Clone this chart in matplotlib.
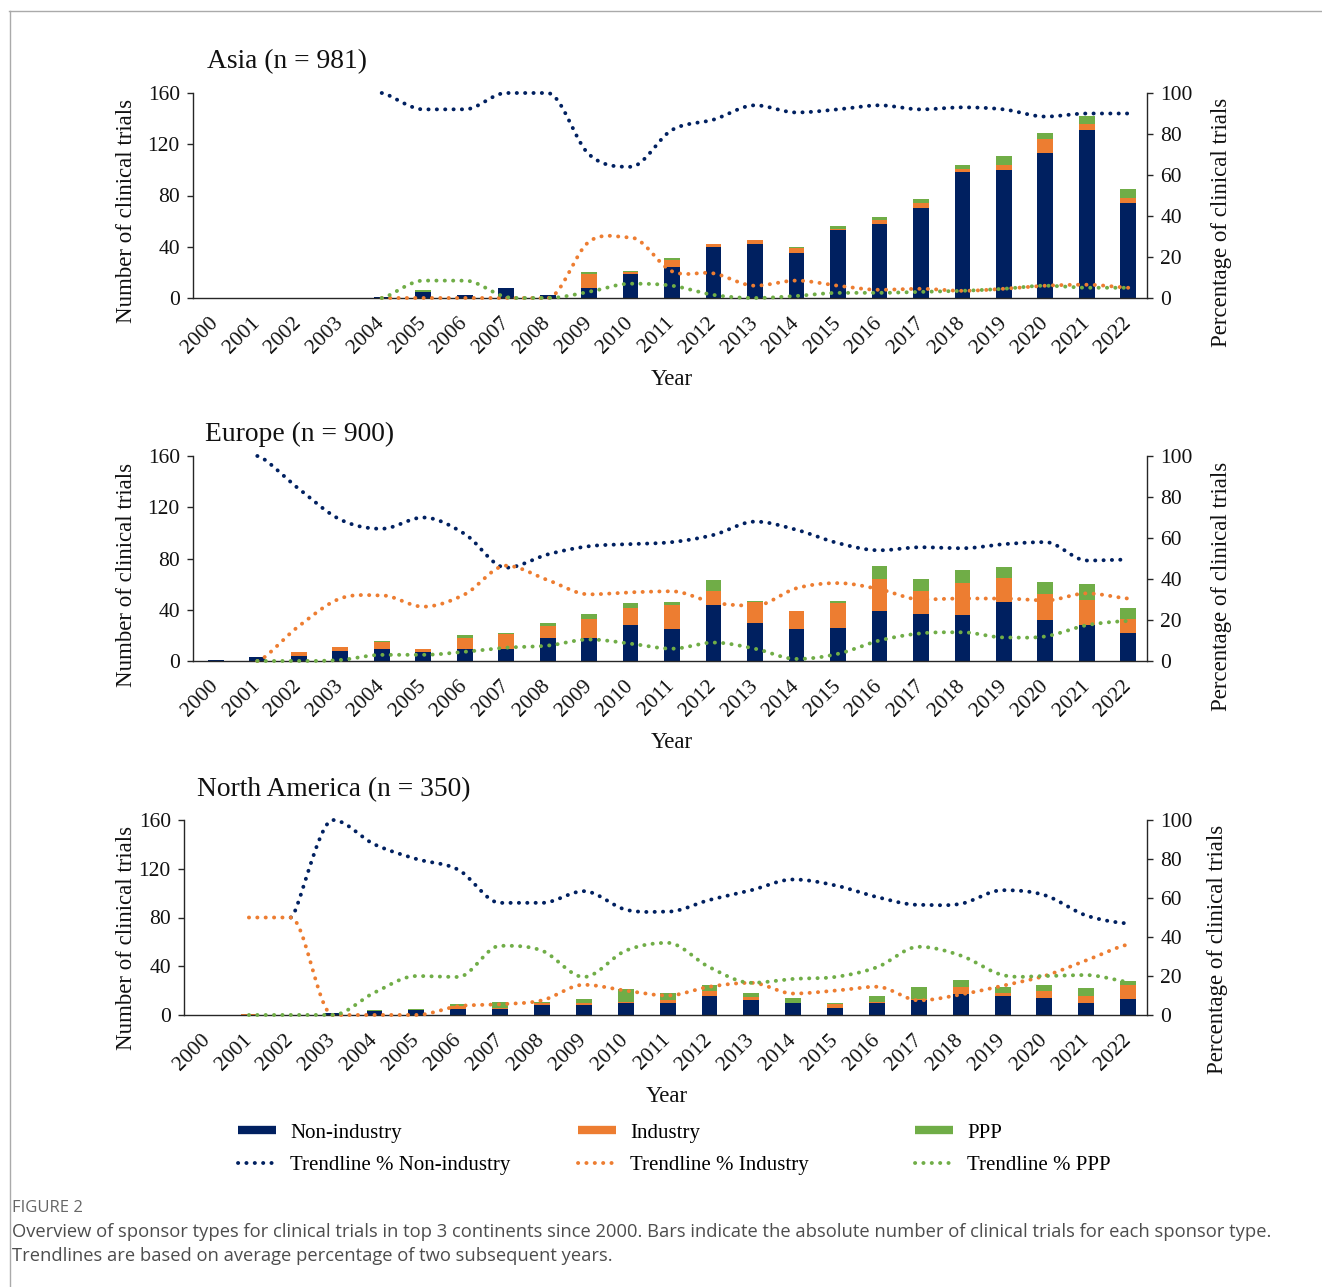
import numpy as np
import matplotlib
matplotlib.use('Agg')
import matplotlib.pyplot as plt
from matplotlib.lines import Line2D

W, H = 1322, 1287
nan = np.nan

years = [str(y) for y in range(2000, 2023)]

# Asia: trial counts per sponsor type and two-year trend percentages
asia_non = [0, 0, 0, 0, 1, 5, 2, 8, 2, 8, 19, 24, 40, 42, 35, 53, 58, 70, 98, 100, 113, 131, 74]
asia_ind = [0, 0, 0, 0, 0, 0, 0, 0, 0, 11, 1, 6, 2, 3, 4, 1, 3, 4, 3, 4, 11, 5, 4]
asia_ppp = [0, 0, 0, 0, 0, 1, 0, 0, 0, 1, 1, 1, 0, 0, 1, 2, 2, 3, 3, 7, 5, 6, 7]
asia_trend_non = [nan, nan, nan, nan, 100, 92, 92, 100, 100, 70, 64, 82, 87, 94, 90.5, 92, 94, 92, 93, 92, 88.5, 90, 90]
asia_trend_ind = [nan, nan, nan, nan, 0, 0, 0, 0, 0, 27.5, 29.5, 13, 12, 6, 8.5, 6, 4, 4.5, 3.5, 4.5, 6, 6.5, 5]
asia_trend_ppp = [nan, nan, nan, nan, 0, 8.5, 8.5, 0.5, 0, 3, 7, 6, 1.5, 0, 1, 2.5, 2.5, 3, 3.5, 4.5, 6, 5, 5]

# Europe
eu_non = [1, 3, 4, 8, 9, 7, 9, 9, 18, 18, 28, 25, 44, 30, 25, 26, 39, 37, 36, 46, 32, 28, 22]
eu_ind = [0, 0, 3, 3, 6, 2, 9, 12, 9, 15, 13, 19, 11, 16, 14, 19, 25, 18, 25, 19, 20, 20, 11]
eu_ppp = [0, 0, 0, 0, 1, 0, 2, 1, 3, 4, 4, 2, 8, 1, 0, 2, 10, 9, 10, 8, 10, 12, 8]
eu_trend_non = [nan, 100, 84, 69, 64.5, 70, 62, 45.5, 52, 56, 57, 58, 61.5, 68, 64, 57.5, 54, 55.5, 55, 57, 58, 49, 49.5]
eu_trend_ind = [nan, 0, 17, 30.5, 32, 26.5, 32.5, 46.5, 39.5, 32.5, 33.5, 34, 28.5, 27, 35.5, 38, 35, 30, 30.5, 30.5, 29.5, 33, 30.5]
eu_trend_ppp = [nan, 0, 0, 0.5, 3, 3, 4.5, 6.5, 7.5, 10.5, 8.5, 6, 9, 6, 1, 3.5, 10, 13.5, 14, 11.5, 12, 17.5, 19.5]

# North America
na_non = [0, 0, 0, 2, 3, 4, 5, 5, 8, 8, 10, 10, 16, 12, 10, 6, 10, 12, 17, 16, 14, 10, 13]
na_ind = [0, 1, 0, 0, 0, 0, 2, 1, 2, 2, 1, 2, 4, 3, 0, 3, 1, 1, 6, 2, 6, 6, 12]
na_ppp = [0, 0, 0, 0, 1, 1, 2, 5, 1, 3, 10, 6, 5, 3, 4, 1, 5, 10, 6, 5, 5, 6, 3]
na_trend_non = [nan, nan, 50, 100, 87.5, 80, 74.5, 57.5, 57.5, 63.5, 54, 53, 59, 64, 69.5, 66.5, 60.5, 56.5, 57, 64, 61.5, 51, 47]
na_trend_ind = [nan, 50, 50, 0, 0, 0, 4.5, 5.5, 7.5, 15.5, 12.5, 10, 14.5, 16.5, 11, 12.5, 14.5, 7.5, 10.5, 15, 20, 28, 36]
na_trend_ppp = [nan, 0, 0, 0, 11.5, 20, 19.5, 35.5, 33, 19.5, 33, 37, 24.5, 16.5, 18.5, 19.5, 24.5, 35, 30.5, 20.5, 20, 20.5, 17]

NAVY = '#002060'
ORANGE = '#ED7D31'
GREEN = '#70AD47'
AXIS = '#262626'
INK = '#111111'

plt.rcParams['font.family'] = ['Liberation Serif', 'DejaVu Serif']
plt.rcParams['axes.linewidth'] = 1.0

TICK_PT = 15.5
LABEL_PT = 16.5
LEGEND_PT = 15
DOT_LW = 2.8
DOTS = (0, (0.05, 2.1))


def px_rect(left, top, right, bottom):
    return [left / W, 1 - bottom / H, (right - left) / W, (bottom - top) / H]


def smooth(xs, ys, steps=24):
    # cubic Bezier through the points; flat tangent at peaks, dips and plateaus
    xs = np.asarray(xs, float)
    ys = np.asarray(ys, float)
    ok = ~np.isnan(ys)
    pts = np.column_stack([xs[ok], ys[ok]])
    n = len(pts)
    P = np.vstack([pts[:1], pts, pts[-1:]])
    tang = (P[2:] - P[:-2]) / 6
    for k in range(n):
        d_prev = P[k + 1, 1] - P[k, 1]
        d_next = P[k + 2, 1] - P[k + 1, 1]
        if d_prev * d_next <= 0:
            tang[k, 1] = 0
    t = np.linspace(0, 1, steps)[:, None]
    out = []
    for k in range(n - 1):
        p1, p2 = pts[k], pts[k + 1]
        b1 = p1 + tang[k]
        b2 = p2 - tang[k + 1]
        seg = (1 - t) ** 3 * p1 + 3 * (1 - t) ** 2 * t * b1 + 3 * (1 - t) * t ** 2 * b2 + t ** 3 * p2
        out.append(seg if k == 0 else seg[1:])
    c = np.vstack(out)
    return c[:, 0], np.clip(c[:, 1], 0, 100)


fig = plt.figure(figsize=(W / 100, H / 100), dpi=100)


def draw_panel(rect, title, title_xy, non, ind, ppp, trends, ylab_y, year_xy, rlab_x):
    ax = fig.add_axes(px_rect(*rect))
    x = np.arange(len(years))
    non = np.array(non)
    ind = np.array(ind)
    ppp = np.array(ppp)
    w = 0.38
    ax.bar(x, non, w, color=NAVY, zorder=2)
    ax.bar(x, ind, w, bottom=non, color=ORANGE, zorder=2)
    ax.bar(x, ppp, w, bottom=non + ind, color=GREEN, zorder=2)
    ax.set_xlim(-0.55, 22.45)
    ax.set_ylim(0, 160)
    ax.set_yticks([0, 40, 80, 120, 160])
    ax.set_xticks(x)
    ax.set_xticklabels(years, rotation=45, ha='right', va='center', rotation_mode='anchor')
    ax.tick_params(axis='x', length=0, pad=16, labelsize=TICK_PT, colors=INK)
    ax.tick_params(axis='y', direction='out', length=4.5, width=1, pad=5,
                   labelsize=TICK_PT, colors=AXIS, labelcolor=INK)
    ax.spines['top'].set_visible(False)
    ax.spines['right'].set_visible(False)
    for s in ('left', 'bottom'):
        ax.spines[s].set_color(AXIS)

    ax2 = ax.twinx()
    ax2.set_ylim(0, 100)
    ax2.set_yticks([0, 20, 40, 60, 80, 100])
    ax2.tick_params(axis='y', direction='out', length=4.5, width=1, pad=5,
                    labelsize=TICK_PT, colors=AXIS, labelcolor=INK)
    for s in ('top', 'left', 'bottom'):
        ax2.spines[s].set_visible(False)
    ax2.spines['right'].set_color(AXIS)
    for series, color in zip(trends, (NAVY, ORANGE, GREEN)):
        sx, sy = smooth(x, series)
        ax2.plot(sx, sy, color=color, lw=DOT_LW, linestyle=DOTS,
                 dash_capstyle='round', clip_on=False)

    fig.text(title_xy[0] / W, 1 - title_xy[1] / H, title, fontsize=19.8,
             ha='left', va='baseline', color=INK)
    fig.text(126 / W, 1 - ylab_y / H, 'Number of clinical trials', rotation=90,
             fontsize=LABEL_PT, ha='center', va='center', color=INK)
    fig.text(rlab_x / W, 1 - (ylab_y + 11) / H, 'Percentage of clinical trials', rotation=90,
             fontsize=LABEL_PT, ha='center', va='center', color=INK)
    fig.text(year_xy[0] / W, 1 - year_xy[1] / H, 'Year', fontsize=LABEL_PT,
             ha='center', va='center', color=INK)


draw_panel((193, 93, 1147, 298), 'Asia (n = 981)', (207, 68),
           asia_non, asia_ind, asia_ppp,
           (asia_trend_non, asia_trend_ind, asia_trend_ppp), 211, (672, 380), 1222)
draw_panel((193, 456, 1147, 661), 'Europe (n = 900)', (205, 441),
           eu_non, eu_ind, eu_ppp,
           (eu_trend_non, eu_trend_ind, eu_trend_ppp), 575, (672, 743), 1222)
draw_panel((184, 820, 1147, 1015), 'North America (n = 350)', (197, 796),
           na_non, na_ind, na_ppp,
           (na_trend_non, na_trend_ind, na_trend_ppp), 938, (667, 1097), 1218)

# Legend: one block per sponsor type, bar swatch above dotted trendline
legend_items = [
    (238, NAVY, 'Non-industry'),
    (578, ORANGE, 'Industry'),
    (915, GREEN, 'PPP'),
]
for lx, color, name in legend_items:
    handles = [
        Line2D([], [], color=color, lw=6, solid_capstyle='butt'),
        Line2D([], [], color=color, lw=DOT_LW, linestyle=DOTS, dash_capstyle='round'),
    ]
    fig.legend(handles, [name, 'Trendline % ' + name], loc='center left',
               bbox_to_anchor=(lx / W, 1 - 1149 / H), frameon=False,
               fontsize=LEGEND_PT, handlelength=1.8, handletextpad=0.7,
               labelspacing=0.62, borderpad=0, borderaxespad=0)

# Figure frame and caption
fig.add_artist(Line2D([9 / W, 1], [1 - 10.5 / H, 1 - 10.5 / H], color='#aaaaaa', lw=1))
fig.add_artist(Line2D([9.5 / W, 9.5 / W], [0, 1 - 10.5 / H], color='#aaaaaa', lw=1))
fig.text(12 / W, 1 - 1208 / H, 'FIGURE 2', family='Open Sans', fontsize=12,
         color='#666666', ha='left', va='center')
fig.text(12 / W, 1 - 1232 / H,
         'Overview of sponsor types for clinical trials in top 3 continents since 2000. '
         'Bars indicate the absolute number of clinical trials for each sponsor type.',
         family='Open Sans', fontsize=13.2, color='#4d4d4d', ha='left', va='center')
fig.text(12 / W, 1 - 1256 / H,
         'Trendlines are based on average percentage of two subsequent years.',
         family='Open Sans', fontsize=13.2, color='#4d4d4d', ha='left', va='center')

fig.savefig('out.png', dpi=100)
